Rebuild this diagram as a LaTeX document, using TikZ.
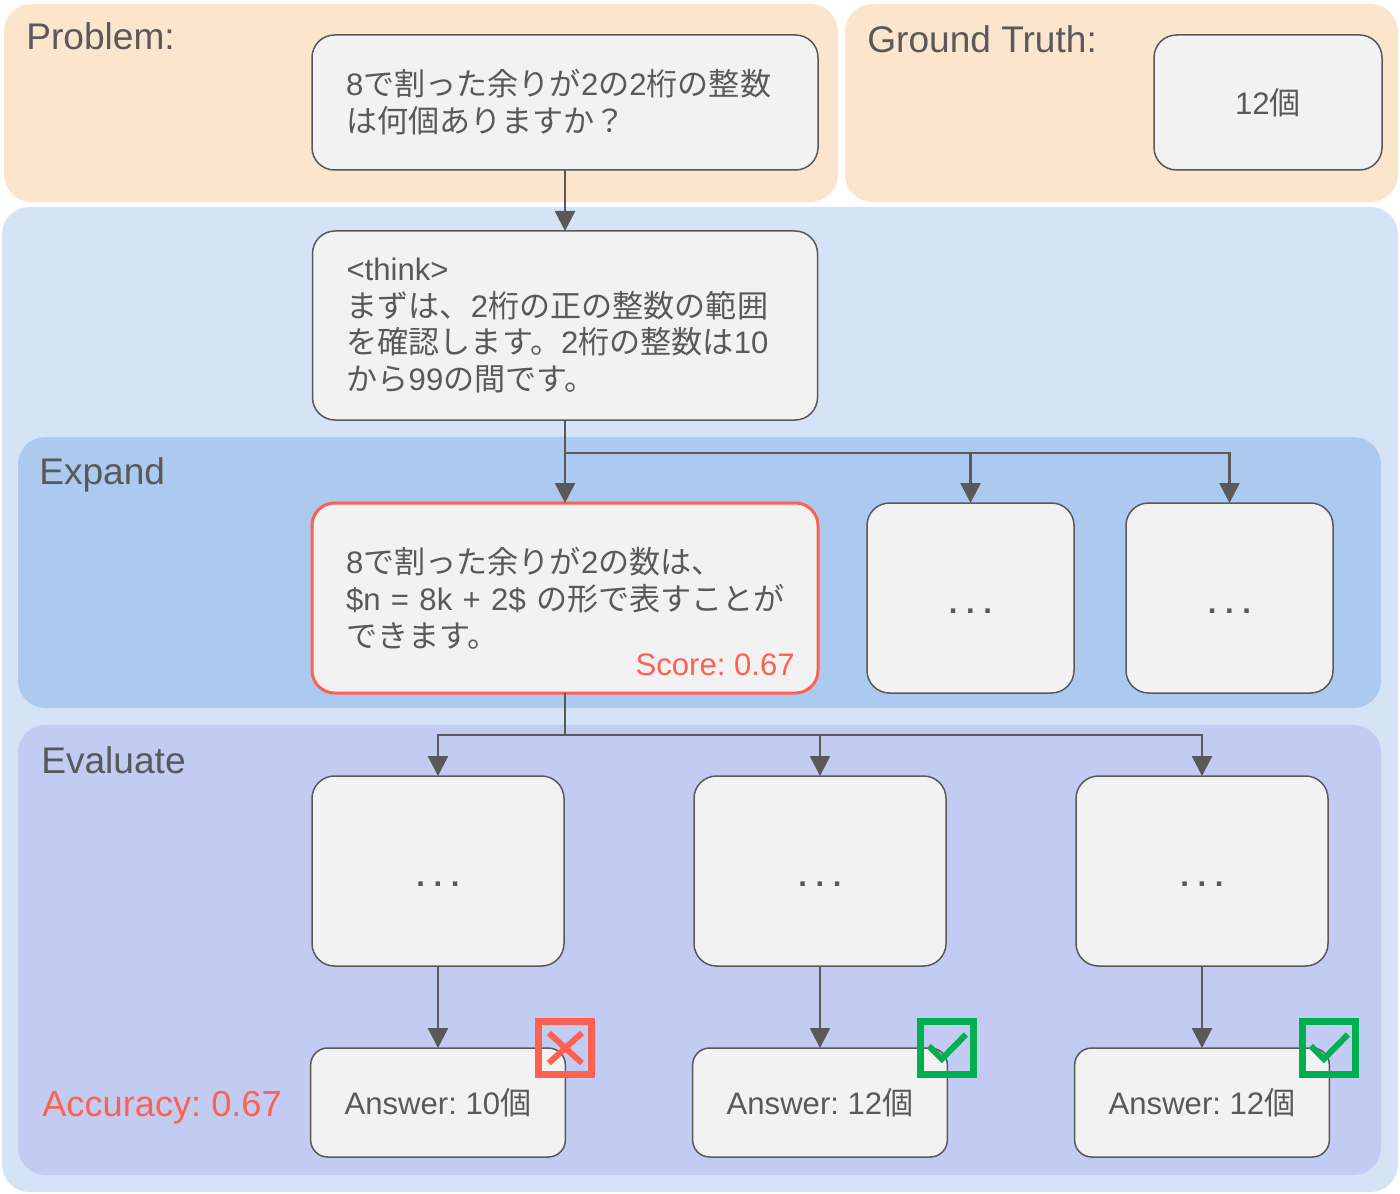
\documentclass[tikz,border=0pt]{standalone}
\usepackage{fontspec}
\setmainfont{Liberation Sans}
\newfontfamily\jpfont{Noto Sans CJK JP}
\newcommand{\ja}[1]{{\jpfont #1}}
\newcommand{\boxfont}{\fontsize{17.7pt}{21pt}\selectfont}
\newcommand{\panelfont}{\fontsize{21.1pt}{24pt}\selectfont}
\usepackage{tikz}
\usetikzlibrary{positioning, arrows.meta}

\definecolor{peach}{HTML}{FCE5CD}
\definecolor{paleblue}{HTML}{D5E3F6}
\definecolor{expandblue}{HTML}{ACC9F0}
\definecolor{evallilac}{HTML}{C2CBF1}
\definecolor{boxgray}{HTML}{F2F2F2}
\definecolor{linegray}{HTML}{595959}
\definecolor{scorered}{HTML}{FF6150}
\definecolor{okgreen}{HTML}{00B050}

\tikzset{
  panel/.style={rounded corners=0.55cm},
  paneltitle/.style={
    text=linegray,
    font=\panelfont,
    inner sep=0pt,
    anchor=base west
  },
  markline/.style={line width=0.12cm},
}
\tikzstyle{block} = [rectangle, rounded corners=0.45cm, draw=linegray, fill=boxgray, line width=0.03cm, text=linegray, font=\boxfont, inner xsep=0.68cm, inner ysep=0pt, outer sep=0pt, align=left]
\tikzstyle{more} = [block, minimum height=3.8cm, text height=0.6cm, text depth=0cm]
\tikzstyle{answer} = [block, rounded corners=0.34cm, minimum width=5.06cm, minimum height=2.18cm, align=center]
\tikzstyle{markbox} = [rectangle, draw, line width=0.14cm, minimum size=1.06cm, inner sep=0pt, outer sep=0pt]
\tikzstyle{arrow} = [draw=linegray, line width=0.05cm, -{Triangle[length=0.4cm, width=0.4cm]}]

\newcommand{\moredots}{{\bfseries .\ .\ .}}

\begin{document}
\frenchspacing
\begin{tikzpicture}
	\useasboundingbox (0,0) rectangle (28,-23.88);

	% panels
	\fill [panel, fill=peach] (0.08,-0.08) rectangle (16.76,-4.04);
	\fill [panel, fill=peach] (16.90,-0.08) rectangle (27.96,-4.04);
	\fill [panel, fill=paleblue] (0.04,-4.14) rectangle (27.96,-23.84);
	\fill [panel, fill=expandblue] (0.36,-8.74) rectangle (27.62,-14.16);
	\fill [panel, fill=evallilac] (0.36,-14.50) rectangle (27.62,-23.50);

	% panel titles
	\node [paneltitle] (ptitle) at (0.52,-1.00) {Problem:};
	\node [paneltitle] (gtitle) at (17.34,-1.06) {Ground Truth:};
	\node [paneltitle] (etitle) at (0.78,-9.68) {Expand};
	\node [paneltitle] (vtitle) at (0.82,-15.46) {Evaluate};
	\node [paneltitle, text=scorered, font=\fontsize{20.6pt}{24pt}\selectfont] (acc) at (0.84,-22.32) {Accuracy: 0.67};

	% blocks
	\node [block, minimum width=10.12cm, minimum height=2.7cm, text width=8.76cm] (prob) at (11.30,-2.05) {8\ja{で割った余りが}2\ja{の}2\ja{桁の整数}\\\ja{は何個ありますか？}};
	\node [block, right=6.72cm of prob, minimum width=4.56cm, minimum height=2.7cm] (truth) {12\ja{個}};
	\node [block, below=1.22cm of prob, minimum width=10.1cm, minimum height=3.78cm, text width=8.74cm] (think) {<think>\\\ja{まずは、}2\ja{桁の正の整数の範囲}\\\ja{を確認します。}2\ja{桁の整数は}10\\\ja{から}99\ja{の間です。}};
	\node [block, below=1.66cm of think, draw=scorered, line width=0.06cm, minimum width=10.12cm, minimum height=3.8cm, text width=8.76cm] (expand) {8\ja{で割った余りが}2\ja{の数は、}\\\mbox{\$n = 8k + 2\$ \ja{の形で表すことが}}\\\ja{できます。}};
	\node [more, right=0.98cm of expand, minimum width=4.14cm] (more1) {\moredots};
	\node [more, right=1.04cm of more1, minimum width=4.14cm] (more2) {\moredots};
	\node [more, below=1.66cm of expand.south west, anchor=north west, minimum width=5.04cm] (roll1) {\moredots};
	\node [more, right=2.6cm of roll1, minimum width=5.04cm] (roll2) {\moredots};
	\node [more, right=2.6cm of roll2, minimum width=5.04cm] (roll3) {\moredots};
	\node [answer, below=1.64cm of roll1] (ans1) {Answer: 10\ja{個}};
	\node [answer, below=1.64cm of roll2] (ans2) {Answer: 12\ja{個}};
	\node [answer, below=1.64cm of roll3] (ans3) {Answer: 12\ja{個}};
	\node [text=scorered, font=\boxfont, anchor=base east, inner sep=0pt] (score) at ([xshift=-0.46cm, yshift=0.36cm]expand.south east) {Score: 0.67};

	% arrows
	\draw [arrow] (prob) -- (think);
	\draw [arrow] (think) -- (expand);
	\draw [arrow] (think.south) -- ++(0,-0.66) -| (more1.north);
	\draw [arrow] (think.south) -- ++(0,-0.66) -| (more2.north);
	\draw [arrow] (expand.south) -- ++(0,-0.84) -| (roll1.north);
	\draw [arrow] (expand.south) -- ++(0,-0.84) -| (roll2.north);
	\draw [arrow] (expand.south) -- ++(0,-0.84) -| (roll3.north);
	\draw [arrow] (roll1) -- (ans1);
	\draw [arrow] (roll2) -- (ans2);
	\draw [arrow] (roll3) -- (ans3);

	% marks
	\node [markbox, draw=scorered] (wrong1) at (ans1.north east) {};
	\node [markbox, draw=okgreen] (right2) at (ans2.north east) {};
	\node [markbox, draw=okgreen] (right3) at (ans3.north east) {};
	\draw [markline, scorered] (wrong1.center) +(-0.33,0.30) -- +(0.33,-0.30);
	\draw [markline, scorered] (wrong1.center) +(-0.33,-0.30) -- +(0.33,0.30);
	\draw [markline, okgreen] (right2.center) +(-0.37,0.04) -- +(-0.11,-0.22) -- +(0.37,0.27);
	\draw [markline, okgreen] (right3.center) +(-0.37,0.04) -- +(-0.11,-0.22) -- +(0.37,0.27);
\end{tikzpicture}
\end{document}
